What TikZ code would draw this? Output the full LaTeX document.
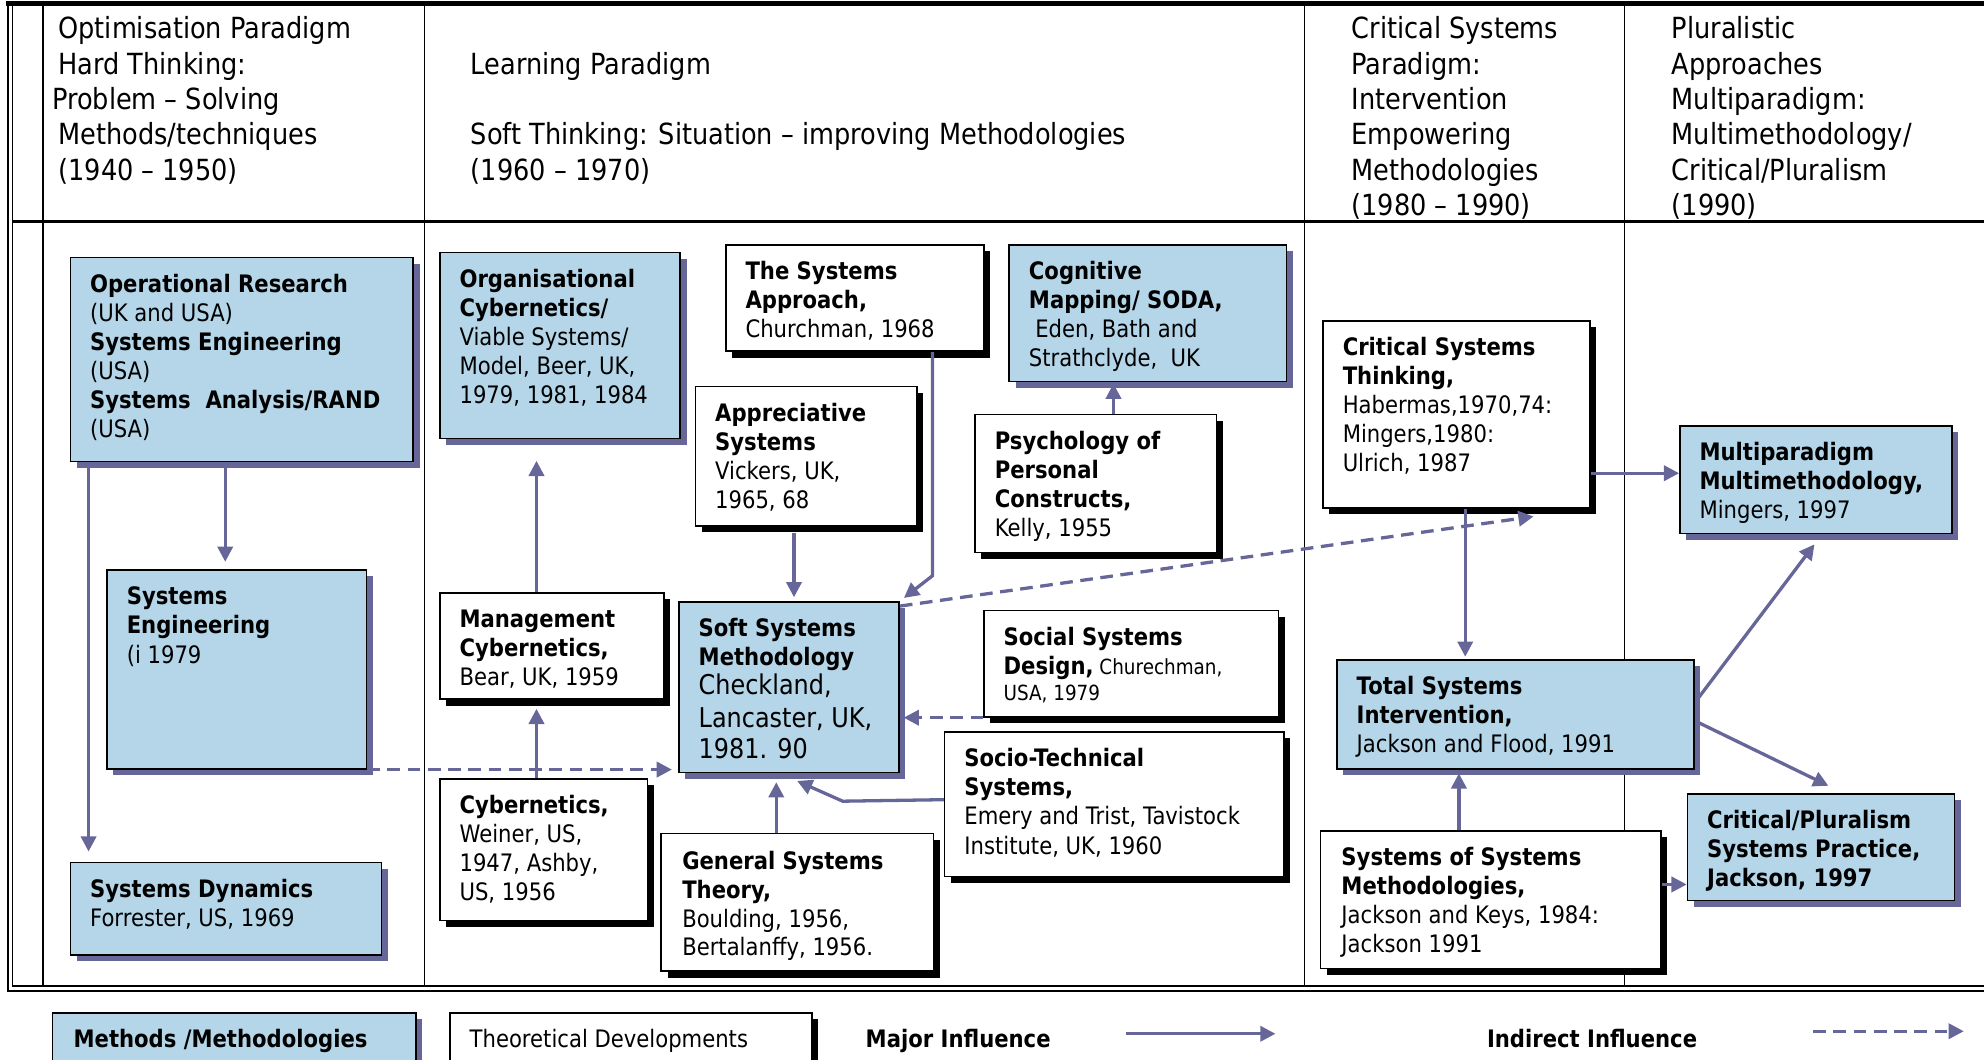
\documentclass[tikz,border=0pt]{standalone}
\usepackage{fontspec}
\setmainfont[FakeStretch=0.88]{DejaVu Sans}
\usetikzlibrary{arrows.meta,calc,shadows}
\definecolor{boxblue}{RGB}{180,214,232}
\definecolor{infl}{RGB}{102,102,153}
\newcommand{\mylines}[1]{\begin{tabular}[t]{@{}l@{}}#1\end{tabular}}
\tikzset{
  framel/.style={line width=1.3pt},
  bluebox/.style={rectangle, draw=black, line width=1.2pt, fill=boxblue, inner sep=0pt, anchor=north west,
    general shadow={fill=infl, shadow xshift=5pt, shadow yshift=-5pt}},
  whitebox/.style={rectangle, draw=black, line width=1.2pt, fill=white, inner sep=0pt, anchor=north west,
    general shadow={fill=black, shadow xshift=5pt, shadow yshift=-5pt}},
  boxtext/.style={anchor=base west, inner sep=0pt, font=\fontsize{19}{23}\selectfont},
  hdr/.style={anchor=base west, inner sep=0pt, font=\fontsize{23}{28}\selectfont},
  major/.style={draw=infl, line width=2.6pt, -{Triangle[length=12pt,width=12pt]}},
  indirect/.style={major, dash pattern=on 10pt off 6pt},
}
\begin{document}
\begin{tikzpicture}[x=1pt,y=-1pt]
\useasboundingbox (0,0) rectangle (1568,837);
\clip (0,0) rectangle (1568,837);
% frame
\draw[line width=4pt] (5,3) -- (1580,3);
\draw[framel] (6.3,1) -- (6.3,783) -- (1580,783);
\draw[framel] (9.9,5) -- (9.9,779) -- (1580,779);
\draw[line width=1.8pt] (9.9,175) -- (1580,175);
\foreach \x in {34.2,335.5,1031,1284} \draw[framel] (\x,5) -- (\x,779);
% header
\node[hdr] (h1) at (41,30.5) {\mylines{\hspace*{5pt}Optimisation Paradigm\\\hspace*{5pt}Hard Thinking:\\Problem – Solving\\\hspace*{5pt}Methods/techniques\\\hspace*{5pt}(1940 – 1950)}};
\node[hdr] (h2) at (372,58.5) {\mylines{Learning Paradigm\\[28pt]Soft Thinking: Situation – improving Methodologies\\(1960 – 1970)}};
\node[hdr] (h3) at (1068,30.5) {\mylines{Critical Systems\\Paradigm:\\Intervention\\Empowering\\Methodologies\\(1980 – 1990)}};
\node[hdr] (h4) at (1321,30.5) {\mylines{Pluralistic\\Approaches\\Multiparadigm:\\Multimethodology/\\Critical/Pluralism\\(1990)}};
% boxes
\node[bluebox, minimum width=271pt, minimum height=161pt] (or) at (55,203) {};
\node[bluebox, minimum width=205pt, minimum height=157pt] (se) at (84,450) {};
\node[bluebox, minimum width=246pt, minimum height=73pt] (sd) at (55,681) {};
\node[bluebox, minimum width=190pt, minimum height=147pt] (oc) at (347,199) {};
\node[whitebox, minimum width=177pt, minimum height=84pt] (mc) at (347,468) {};
\node[whitebox, minimum width=164pt, minimum height=112pt] (cy) at (347,615) {};
\node[whitebox, minimum width=204pt, minimum height=84pt] (sa) at (573,193) {};
\node[whitebox, minimum width=175pt, minimum height=110pt] (as) at (549,305) {};
\node[bluebox, minimum width=219pt, minimum height=108pt] (cm) at (797,193) {};
\node[whitebox, minimum width=191pt, minimum height=109pt] (pp) at (770,327) {};
\node[bluebox, minimum width=174pt, minimum height=135pt] (ssm) at (536,475) {};
\node[whitebox, minimum width=233pt, minimum height=84pt] (ssd) at (777,482) {};
\node[whitebox, minimum width=268pt, minimum height=114pt] (st) at (746,578) {};
\node[whitebox, minimum width=215pt, minimum height=109pt] (gst) at (522,658) {};
\node[whitebox, minimum width=211pt, minimum height=148pt] (cst) at (1045,253) {};
\node[bluebox, minimum width=282pt, minimum height=86pt] (tsi) at (1056,521) {};
\node[whitebox, minimum width=269pt, minimum height=109pt] (sos) at (1043,656) {};
\node[bluebox, minimum width=215pt, minimum height=85pt] (mp) at (1327,336) {};
\node[bluebox, minimum width=211pt, minimum height=84pt] (cp) at (1333,627) {};
\node[bluebox, minimum width=287pt, minimum height=60pt] (lb) at (41,800) {};
\node[whitebox, minimum width=286pt, minimum height=60pt] (lw) at (355,800) {};
% box texts
\node[boxtext] (or-t) at ($(or.north west)+(16,28)$) {\mylines{\textbf{Operational Research}\\(UK and USA)\\\textbf{Systems Engineering}\\(USA)\\\textbf{Systems\ \ Analysis/RAND}\\(USA)}};
\node[boxtext] (se-t) at ($(se.north west)+(16,28)$) {\mylines{\textbf{Systems}\\\textbf{Engineering}\\(i 1979}};
\node[boxtext] (sd-t) at ($(sd.north west)+(16,28)$) {\mylines{\textbf{Systems Dynamics}\\Forrester, US, 1969}};
\node[boxtext] (oc-t) at ($(oc.north west)+(16,28)$) {\mylines{\textbf{Organisational}\\\textbf{Cybernetics/}\\Viable Systems/\\Model, Beer, UK,\\1979, 1981, 1984}};
\node[boxtext] (mc-t) at ($(mc.north west)+(16,28)$) {\mylines{\textbf{Management}\\\textbf{Cybernetics,}\\Bear, UK, 1959}};
\node[boxtext] (cy-t) at ($(cy.north west)+(16,28)$) {\mylines{\textbf{Cybernetics,}\\Weiner, US,\\1947, Ashby,\\US, 1956}};
\node[boxtext] (sa-t) at ($(sa.north west)+(16,28)$) {\mylines{\textbf{The Systems}\\\textbf{Approach,}\\Churchman, 1968}};
\node[boxtext] (as-t) at ($(as.north west)+(16,28)$) {\mylines{\textbf{Appreciative}\\\textbf{Systems}\\Vickers, UK,\\1965, 68}};
\node[boxtext] (cm-t) at ($(cm.north west)+(16,28)$) {\mylines{\textbf{Cognitive}\\\textbf{Mapping/ SODA,}\\\hspace*{5pt}Eden, Bath and\\Strathclyde,\ \ UK}};
\node[boxtext] (pp-t) at ($(pp.north west)+(16,28)$) {\mylines{\textbf{Psychology of}\\\textbf{Personal}\\\textbf{Constructs,}\\Kelly, 1955}};
\node[boxtext] (ssm-t) at ($(ssm.north west)+(16,28)$) {\mylines{\textbf{Soft Systems}\\\textbf{Methodology}\\{\fontsize{21.5}{25}\selectfont Checkland,}\\[3pt]{\fontsize{21.5}{25}\selectfont Lancaster, UK,}\\[1.5pt]{\fontsize{21.5}{25}\selectfont 1981. 90}}};
\node[boxtext] (ssd-t) at ($(ssd.north west)+(16,28)$) {\mylines{\textbf{Social Systems}\\\textbf{Design,}{\fontsize{16.5}{20}\selectfont\ Churechman,}\\[-2pt]{\fontsize{16.5}{20}\selectfont USA, 1979}}};
\node[boxtext] (st-t) at ($(st.north west)+(16,28)$) {\mylines{\textbf{Socio-Technical}\\\textbf{Systems,}\\Emery and Trist, Tavistock\\Institute, UK, 1960}};
\node[boxtext] (gst-t) at ($(gst.north west)+(17,29)$) {\mylines{\textbf{General Systems}\\\textbf{Theory,}\\Boulding, 1956,\\[-1pt]Bertalanffy, 1956.}};
\node[boxtext] (cst-t) at ($(cst.north west)+(16,28)$) {\mylines{\textbf{Critical Systems}\\\textbf{Thinking,}\\Habermas,1970,74:\\Mingers,1980:\\Ulrich, 1987}};
\node[boxtext] (tsi-t) at ($(tsi.north west)+(16,28)$) {\mylines{\textbf{Total Systems}\\\textbf{Intervention,}\\Jackson and Flood, 1991}};
\node[boxtext] (sos-t) at ($(sos.north west)+(17,28)$) {\mylines{\textbf{Systems of Systems}\\\textbf{Methodologies,}\\Jackson and Keys, 1984:\\Jackson 1991}};
\node[boxtext] (mp-t) at ($(mp.north west)+(16,28)$) {\mylines{\textbf{Multiparadigm}\\\textbf{Multimethodology,}\\Mingers, 1997}};
\node[boxtext] (cp-t) at ($(cp.north west)+(16,28)$) {\mylines{\textbf{Critical/Pluralism}\\\textbf{Systems Practice,}\\\textbf{Jackson, 1997}}};
\node[boxtext] (lb-t) at ($(lb.north west)+(17,28)$) {\textbf{Methods /Methodologies}};
\node[boxtext] (lw-t) at ($(lw.north west)+(16,28)$) {Theoretical Developments};
\node[boxtext] (lmaj) at (684,828) {\textbf{Major Influence}};
\node[boxtext] (lind) at (1175,828) {\textbf{Indirect Influence}};
% connectors
\draw[major, shorten >=6pt] ([xshift=123pt]or.south west) -- ([xshift=123pt]or.south west |- se.north);
\draw[major, shorten >=8pt] ([xshift=15pt]or.south west) -- ([xshift=15pt]or.south west |- sd.north);
\draw[indirect, shorten >=5pt] (se.south east) -- (se.south east -| ssm.west);
\draw[major, shorten >=7pt] ([xshift=77pt]cy.north west) -- ([xshift=77pt]cy.north west |- mc.south);
\draw[major, shorten >=17pt] ([xshift=77pt]mc.north west) -- ([xshift=77pt]mc.north west |- oc.south);
\draw[major, shorten >=3pt, shorten <=5pt] ([xshift=78.5pt]as.south west) -- ([xshift=78.5pt]as.south west |- ssm.north);
\coordinate (gbend) at ([xshift=164pt]sa.south west |- ssm.north);
\draw[major, shorten >=4pt] ([xshift=164pt]sa.south west) -- ([yshift=20pt]gbend) -- (ssm.north east);
\draw[major, shorten >=1pt] ([xshift=110pt]pp.north west) -- ([xshift=110pt]pp.north west |- cm.south);
\draw[indirect] ([yshift=-4pt]ssm.north east) -- ([xshift=167pt,yshift=-6pt]cst.south west);
\draw[indirect, shorten >=3pt] (ssd.south west) -- (ssd.south west -| ssm.east);
\draw[major, shorten >=7pt] ([xshift=91.5pt]gst.north west) -- ([xshift=91.5pt]gst.north west |- ssm.south);
\draw[major] ([yshift=-54pt]st.north west) -- ($(ssm.south west)+(130,22)$) -- ($(ssm.south west)+(94,6)$);
\draw[major] ([yshift=-121pt]cst.north east) -- ([yshift=-121pt]cst.north east -| mp.west);
\draw[major, shorten >=2pt] ([xshift=113pt]cst.south west) -- ([xshift=113pt]cst.south west |- tsi.north);
\draw[major, shorten >=3pt] ([xshift=110pt]sos.north west) -- ([xshift=110pt]sos.north west |- tsi.south);
\draw[major] ($(tsi.north east)+(2,32)$) -- ($(mp.south west)+(107,8)$);
\draw[major] ($(tsi.north east)+(3,50)$) -- ($(cp.north west)+(112,-6)$);
\draw[major] ([yshift=-43pt]sos.north east) -- ([yshift=-43pt]sos.north east -| cp.west);
% legend arrows
\coordinate (m1) at (890,817);
\coordinate (m2) at (1008,817);
\coordinate (i1) at (1433,815);
\coordinate (i2) at (1552,815);
\draw[major] (m1) -- (m2);
\draw[indirect] (i1) -- (i2);
\end{tikzpicture}
\end{document}
